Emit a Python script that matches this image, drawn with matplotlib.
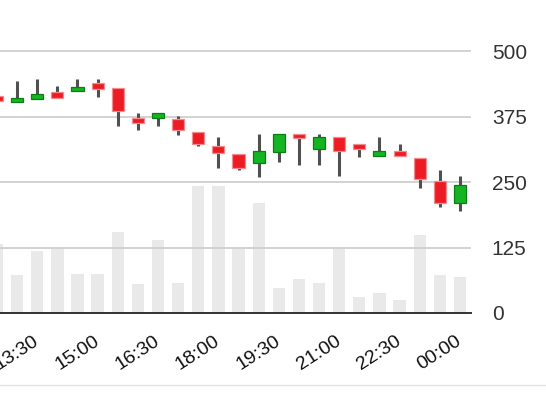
import matplotlib
matplotlib.use("Agg")
import matplotlib.pyplot as plt
from matplotlib.lines import Line2D
import numpy as np

# half-hour candles, 12:30 -> 00:00
times = ["12:30", "13:00", "13:30", "14:00", "14:30", "15:00", "15:30", "16:00",
         "16:30", "17:00", "17:30", "18:00", "18:30", "19:00", "19:30", "20:00",
         "20:30", "21:00", "21:30", "22:00", "22:30", "23:00", "23:30", "00:00"]
opens = [414, 402, 409, 421, 423, 439, 429, 373, 373, 370, 345, 319,
         303, 286, 307, 342, 313, 335, 322, 300, 309, 296, 252, 209]
closes = [405, 411, 418, 411, 432, 427, 386, 363, 382, 349, 323, 306,
          276, 309, 342, 334, 335, 309, 313, 309, 299, 256, 209, 245]
highs = [414, 443, 447, 433, 446, 446, 429, 382, 382, 376, 345, 336,
         303, 342, 342, 342, 342, 335, 322, 335, 322, 296, 272, 262]
lows = [405, 402, 409, 411, 423, 413, 356, 349, 356, 340, 319, 276,
        272, 259, 289, 282, 282, 262, 298, 300, 299, 239, 202, 195]
volumes = [132, 72, 119, 125, 75, 75, 155, 55, 139, 58, 242, 242,
           125, 209, 48, 65, 58, 122, 31, 38, 25, 149, 72, 69]

red = "#ed1c24"
green = "#14b422"

x = np.arange(len(times))
o = np.array(opens)
c = np.array(closes)
up = c >= o

fig = plt.figure(figsize=(5.46, 3.97), dpi=100)
ax = fig.add_axes([0, 84 / 397, 471 / 546, 273 / 397])

# volume in the background
ax.bar(x, volumes, width=0.61, color="#e9e9e9", zorder=1)

for yv in [125, 250, 375, 500]:
    ax.axhline(yv, color="#cfcfcf", lw=1.3, zorder=2)

# wicks then bodies
ax.vlines(x, lows, highs, color="#505050", lw=2.2, zorder=3)
ax.bar(x[up], (c - o)[up], bottom=o[up], width=0.6, color=green,
       edgecolor="#0b7d14", lw=0.9, zorder=4)
ax.bar(x[~up], (o - c)[~up], bottom=c[~up], width=0.6, color=red,
       edgecolor="#f28a8e", lw=0.9, zorder=4)

ax.set_xlim(0.15, 23.55)
ax.set_ylim(0, 521)

for s in ["left", "right", "top"]:
    ax.spines[s].set_visible(False)
ax.spines["bottom"].set_color("#333333")
ax.spines["bottom"].set_linewidth(1.4)
ax.spines["bottom"].set_zorder(5)

ax.yaxis.tick_right()
ax.set_yticks([0, 125, 250, 375, 500])
ax.tick_params(axis="y", length=0, pad=15, labelsize=15, labelcolor="#333333")
for lab in ax.get_yticklabels():
    lab.set_fontfamily("Liberation Sans")

ax.set_xticks(x[2::3])
ax.set_xticklabels(times[2::3], rotation=33, ha="right", va="center",
                   rotation_mode="anchor", fontsize=14, family="Liberation Sans",
                   color="#111111")
ax.tick_params(axis="x", length=0, pad=19)

fig.add_artist(Line2D([0, 1], [12 / 397, 12 / 397], color="#e3e3e3", lw=1))

fig.savefig("out.png", dpi=100)
